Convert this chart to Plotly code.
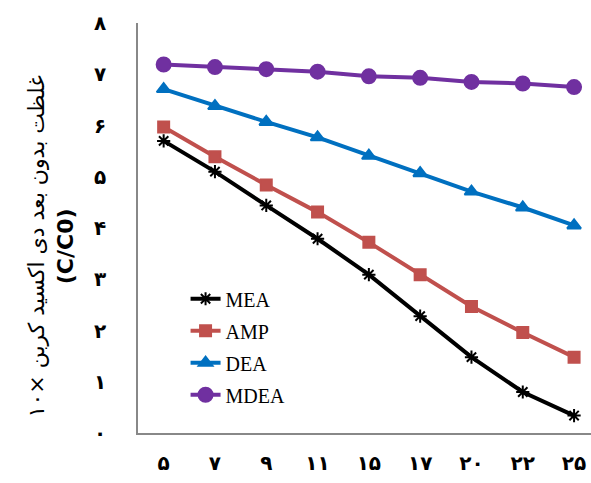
import plotly.graph_objects as go

categories = ["۵", "۷", "۹", "۱۱", "۱۵", "۱۷", "۲۰", "۲۲", "۲۵"]
y_ticks = [0, 1, 2, 3, 4, 5, 6, 7, 8]
y_ticktext = ["۰", "۱", "۲", "۳", "۴", "۵", "۶", "۷", "۸"]

mea = [5.70, 5.10, 4.44, 3.79, 3.09, 2.28, 1.48, 0.80, 0.34]
amp = [5.97, 5.39, 4.84, 4.31, 3.72, 3.09, 2.47, 1.96, 1.48]
dea = [6.71, 6.38, 6.07, 5.77, 5.41, 5.07, 4.71, 4.40, 4.05]
mdea = [7.19, 7.14, 7.10, 7.05, 6.96, 6.93, 6.85, 6.82, 6.75]

series = [
    ("MEA", mea, "#000000", "asterisk-open", 11),
    ("AMP", amp, "#C0504D", "square", 11),
    ("DEA", dea, "#0070C0", "triangle-up", 12),
    ("MDEA", mdea, "#7030A0", "circle", 14),
]

fig = go.Figure()
xs = list(range(len(categories)))
for i, (name, vals, color, sym, size) in enumerate(series):
    fig.add_trace(go.Scatter(
        x=xs, y=vals, name=name, mode="lines+markers",
        line=dict(color=color, width=4),
        marker=dict(symbol=sym, size=size, color=color,
                    line=dict(color=color, width=2)),
        legendgroup=name,
    ))

fig.update_layout(
    width=591, height=483,
    margin=dict(l=138, r=0, t=23, b=50),
    plot_bgcolor="white", paper_bgcolor="white",
    showlegend=True,
    legend=dict(
        x=0.105, y=0.375, xanchor="left", yanchor="top",
        font=dict(family="Liberation Serif", size=20, color="#000"),
        tracegroupgap=3, traceorder="grouped",
        bgcolor="rgba(0,0,0,0)",
    ),
    xaxis=dict(
        tickvals=xs, ticktext=categories,
        range=[-0.5, 8.33],
        showline=True, linecolor="#888888", linewidth=1.5,
        showgrid=False, zeroline=False, ticks="",
        tickfont=dict(family="DejaVu Sans", size=20, color="#000", weight="bold"),
        ticklabelstandoff=11,
    ),
    yaxis=dict(
        tickvals=y_ticks, ticktext=y_ticktext,
        range=[0, 8],
        showline=True, linecolor="#888888", linewidth=1.5,
        showgrid=False, zeroline=False, ticks="",
        tickfont=dict(family="DejaVu Sans", size=20, color="#000", weight="bold"),
        ticklabelstandoff=26,
    ),
    annotations=[
        dict(
            text="غلظت بدون بعد دی اکسید کربن ×۱۰<br><b>(C/C0)</b>",
            xref="paper", yref="paper", x=-0.19, y=0.455,
            xanchor="center", yanchor="middle",
            textangle=-90, showarrow=False,
            font=dict(family="DejaVu Sans", size=22, color="#000"),
        )
    ],
)

fig.write_html("out.html")
